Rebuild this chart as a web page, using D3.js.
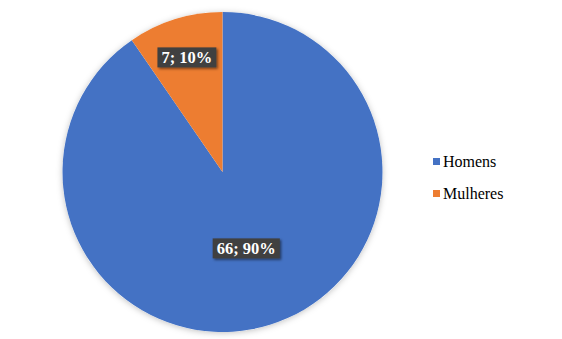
<!DOCTYPE html>
<html><head><meta charset="utf-8">
<script src="https://cdn.jsdelivr.net/npm/d3@7"></script>
<style>html,body{margin:0;padding:0;background:#fff;}svg{display:block;}</style>
</head><body>
<svg id="c" width="562" height="339"></svg>
<script>
const categories = ["Homens", "Mulheres"];
const values = [66, 7];
const percentLabels = ["90%", "10%"];
const colors = ["#4472C4", "#ED7D31"];

const FONT = '"Liberation Serif"';
const svg = d3.select("#c");
const cx = 222.5, cy = 172, r = 160;

function draw() {
const defs = svg.append("defs");
const f = defs.append("filter").attr("id","sh").attr("x","-20%").attr("y","-20%").attr("width","140%").attr("height","140%");
f.append("feDropShadow").attr("dx",0).attr("dy",1).attr("stdDeviation",3).attr("flood-color","#000").attr("flood-opacity",0.25);
const f2 = defs.append("filter").attr("id","lsh").attr("x","-20%").attr("y","-30%").attr("width","140%").attr("height","160%");
f2.append("feDropShadow").attr("dx",1.5).attr("dy",1.5).attr("stdDeviation",1.2).attr("flood-color","#000").attr("flood-opacity",0.5);

const pie = d3.pie().sort(null).value(d => d)(values);
const arc = d3.arc().innerRadius(0).outerRadius(r);
const g = svg.append("g").attr("transform", `translate(${cx},${cy})`);
g.append("circle").attr("r", r).attr("fill", "#fff").attr("filter","url(#sh)");
g.selectAll("path.s").data(pie).join("path").attr("class","s")
  .attr("d", arc).attr("fill", (d,i) => colors[i]);

const labelFrac = [0.5, 0.75];
pie.forEach((d,i) => {
  const a = (d.startAngle + d.endAngle)/2;
  const lr = r * labelFrac[i];
  const x = Math.sin(a)*lr, y = -Math.cos(a)*lr;
  const lg = g.append("g").attr("transform", `translate(${x},${y})`);
  const rect = lg.append("rect").attr("fill","#404040").attr("filter","url(#lsh)");
  const t = lg.append("text").attr("text-anchor","middle").attr("y", 5.5)
    .style("font-family", FONT).style("font-weight","bold")
    .style("font-size","16.5px").attr("fill","#fff").text(`${values[i]}; ${percentLabels[i]}`);
  const w = t.node().getComputedTextLength();
  rect.attr("x", -w/2-4).attr("y", -10).attr("width", w+8).attr("height", 20);
});

const leg = svg.append("g").attr("transform","translate(433,0)");
categories.forEach((c,i) => {
  const y = 158 + i*32;
  leg.append("rect").attr("x",0).attr("y",y).attr("width",7).attr("height",7).attr("fill",colors[i]);
  leg.append("text").attr("x",10).attr("y",y+9).style("font-family",FONT)
    .style("font-size","16px").attr("fill","#000").text(c);
});
}
if (document.fonts && document.fonts.load) {
  Promise.all([document.fonts.load('16px "Liberation Serif"'), document.fonts.load('bold 16px "Liberation Serif"')])
    .then(draw, draw);
} else draw();
</script>
</body></html>
